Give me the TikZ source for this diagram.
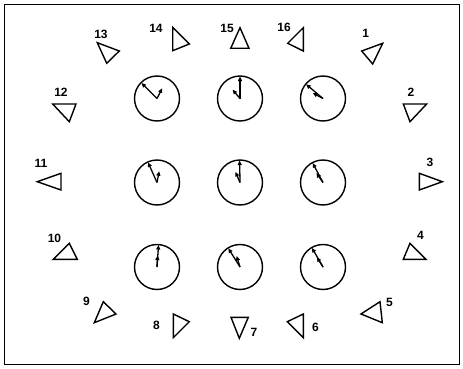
\documentclass[tikz,border=0pt]{standalone}
\usepackage{fontspec}
\setmainfont{Liberation Sans}
\usetikzlibrary{arrows.meta}
\begin{document}
\begin{tikzpicture}[x=1pt,y=-1pt,
  lbl/.style={font=\bfseries\fontsize{12}{14}\selectfont,inner sep=0pt},
  tri/.style={draw,line width=1.4pt,line join=miter},
  clock/.style={draw,circle,line width=1.4pt,minimum size=45pt,inner sep=0pt},
  hand/.style={line width=1.3pt,-{Triangle[length=4.5pt,width=4pt]}}]
\useasboundingbox (0,0) rectangle (463,369);
\draw[line width=0.9pt] (4.5,4.5) rectangle (459.5,364.5);
% clocks
\node[clock] (c11) at (157,98.5) {};
\node[clock] (c12) at (240,98.5) {};
\node[clock] (c13) at (323,98.5) {};
\node[clock] (c21) at (157,182.5) {};
\node[clock] (c22) at (240,182.5) {};
\node[clock] (c23) at (323,182.5) {};
\node[clock] (c31) at (157,267) {};
\node[clock] (c32) at (240,267) {};
\node[clock] (c33) at (323,267) {};
% hands (angles measured with y downward, so use negative sine direction)
\newcommand{\clockhands}[3]{%
  \draw[hand] (#1.center) -- ++({cos(#2)*22},{-sin(#2)*22});
  \draw[hand] (#1.center) -- ++({cos(#3)*11.5},{-sin(#3)*11.5});}
\clockhands{c11}{135}{63}
\clockhands{c12}{90}{130}
\clockhands{c13}{140}{152}
\clockhands{c21}{114}{79}
\clockhands{c22}{91}{113}
\clockhands{c23}{118}{125}
\clockhands{c31}{86}{87}
\clockhands{c32}{122}{107}
\clockhands{c33}{120}{122}
% triangles
\draw[tri] (97.3,42.7) -- (119.3,51) -- (106.7,63.3) -- cycle;   % 13
\draw[tri] (172.7,27.3) -- (189.3,44) -- (172.7,50.7) -- cycle;  % 14
\draw[tri] (240,27.7) -- (230.7,48.3) -- (249,48.3) -- cycle;    % 15
\draw[tri] (303.3,27.7) -- (287.7,43.3) -- (303.3,51) -- cycle;  % 16
\draw[tri] (382.7,43.3) -- (361.7,51) -- (372.7,64) -- cycle;    % 1
\draw[tri] (52.7,104) -- (76,104) -- (69.3,121.7) -- cycle;      % 12
\draw[tri] (403.3,104) -- (426.7,104) -- (410,121.7) -- cycle;   % 2
\draw[tri] (37.3,181.7) -- (61,173.3) -- (61,190) -- cycle;      % 11
\draw[tri] (442.3,181.7) -- (419.3,173.3) -- (419.3,190) -- cycle; % 3
\draw[tri] (69.3,243.3) -- (53.3,259.3) -- (77.3,259.3) -- cycle; % 10
\draw[tri] (410,243.3) -- (403.3,259.3) -- (426,259.3) -- cycle;  % 4
\draw[tri] (103.3,301.7) -- (116,314) -- (94.3,322.7) -- cycle;   % 9
\draw[tri] (173.3,314) -- (189.3,321.7) -- (173.3,337.7) -- cycle; % 8
\draw[tri] (231,317.3) -- (248.3,317.3) -- (239.3,338.3) -- cycle; % 7
\draw[tri] (303.3,314) -- (287.3,321.7) -- (303.3,337.7) -- cycle; % 6
\draw[tri] (380,301.7) -- (361,314) -- (382.3,322.7) -- cycle;     % 5
% labels
\node[lbl] (l13) at (101,34) {13};
\node[lbl] (l14) at (156,28.5) {14};
\node[lbl] (l15) at (227,28) {15};
\node[lbl] (l16) at (284,27.5) {16};
\node[lbl] (l1) at (365.7,33.5) {1};
\node[lbl] (l12) at (61,92) {12};
\node[lbl] (l2) at (411,92) {2};
\node[lbl] (l11) at (41,163) {11};
\node[lbl] (l3) at (430,162.5) {3};
\node[lbl] (l10) at (54.5,238) {10};
\node[lbl] (l4) at (420.5,235) {4};
\node[lbl] (l9) at (86.5,301.5) {9};
\node[lbl] (l8) at (156.5,325) {8};
\node[lbl] (l7) at (254,332) {7};
\node[lbl] (l6) at (315.5,327) {6};
\node[lbl] (l5) at (389.5,302) {5};
\end{tikzpicture}
\end{document}
